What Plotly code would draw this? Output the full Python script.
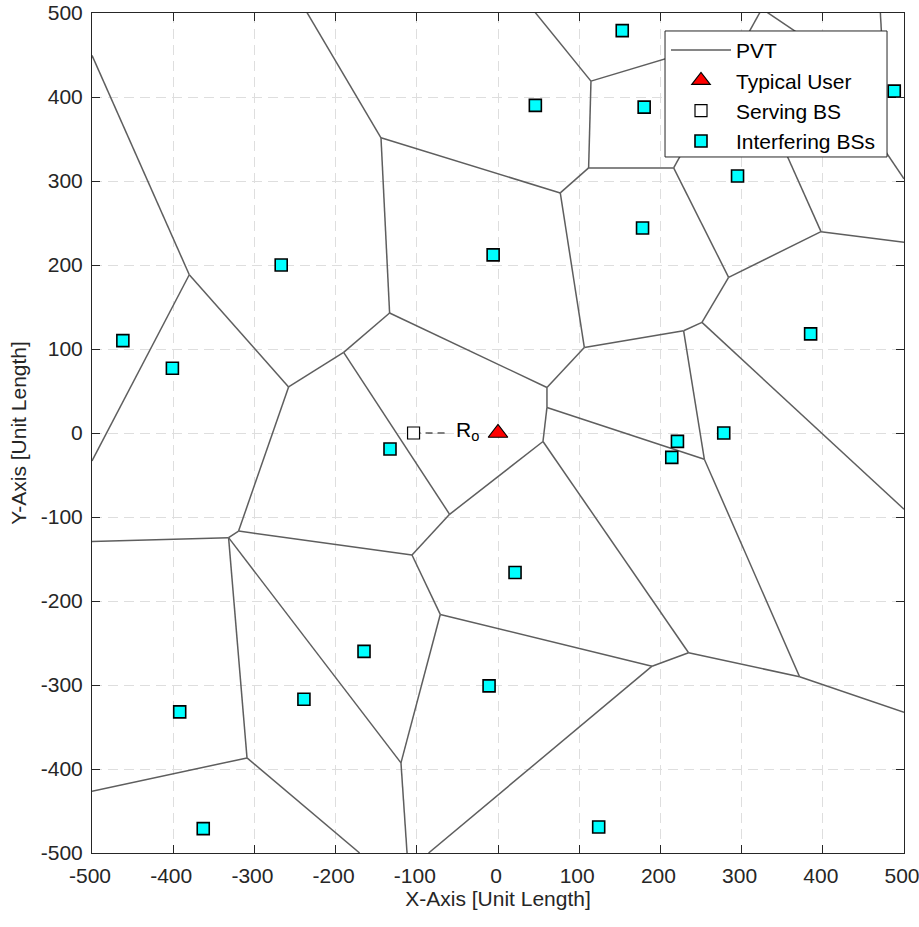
import plotly.graph_objects as go

# ---- Voronoi (PVT) vertices (data units) ----
vertex_x = [-380.2, -257.9, -144.1, -133.5, 76.7, 111.6, 114.5, 216.3, 284.0, 251.2,
            397.8, 228.6, 106.3, 254.1, 60.3, 371.4, 234.7, 55.4, 189.7, -71.1,
            -105.9, -59.6, -190.1, 60.3, -319.5, -331.8, -309.1, -119.5, 307.9, 400.0,
            473.5, 455.0, 332.9, -500.0, -500.0, -235.2, 45.9, -500.0, -500.0, -170.4,
            -112.0, -85.5, 500.0, 500.0, 500.0, 325.0, 470.6, 500.0]
vertex_y = [188.4, 54.9, 351.4, 142.8, 285.8, 315.6, 418.9, 315.6, 185.3, 131.7,
            239.7, 121.7, 101.9, -31.2, 30.4, -290.2, -261.6, -10.1, -277.6, -216.0,
            -145.3, -96.8, 95.9, 54.2, -116.7, -124.6, -386.8, -392.7, 475.1, 456.1,
            455.0, 367.0, 380.0, 449.5, -33.3, 500.5, 500.5, -129.3, -426.6, -500.0,
            -500.0, -500.0, -90.8, -332.4, 227.0, 505.0, 505.0, 302.7]
edge_from = [33, 0, 0, 35, 2, 2, 4, 5, 6, 6, 5, 7, 28, 7, 8, 8, 10, 10, 32, 29, 29, 30, 30, 31, 31,
             9, 9, 11, 11, 13, 13, 15, 15, 16, 16, 18, 18, 19, 20, 21, 21, 22, 22, 3, 23, 23, 14,
             12, 1, 24, 24, 25, 25, 25, 27, 27, 26, 26]
edge_to = [0, 34, 1, 2, 3, 4, 5, 6, 36, 28, 7, 28, 45, 8, 9, 10, 44, 32, 29, 45, 30, 46, 31, 47, 32,
           42, 11, 12, 13, 14, 15, 43, 16, 17, 18, 19, 41, 20, 21, 17, 22, 1, 3, 23, 12, 14, 17,
           4, 24, 20, 25, 37, 26, 27, 19, 40, 38, 39]

# ---- Base stations and user ----
bs_x = [153, 46, 180, 488, 295, 178, -6, -267, -462, -401, 385, -133, 221, 214, 278,
        21, -11, -165, -239, -392, -363, 124]
bs_y = [479, 390, 388, 407, 306, 244, 212, 200, 110, 77, 118, -19, -10, -29, 0,
        -166, -301, -260, -317, -332, -471, -469]
serving_x = [-104]
serving_y = [0]
user_x = [0]
user_y = [0]
ro_x = [-104, -60]
ro_y = [0, 0]

ticks = [-500, -400, -300, -200, -100, 0, 100, 200, 300, 400, 500]

ex, ey = [], []
for a, b in zip(edge_from, edge_to):
    ex += [vertex_x[a], vertex_x[b], None]
    ey += [vertex_y[a], vertex_y[b], None]

FONT = "Liberation Sans, Arial, Helvetica, sans-serif"
AX = "#262626"
FS = 21

fig = go.Figure()
fig.add_trace(go.Scatter(x=ex, y=ey, mode="lines", name="PVT",
                         line=dict(color="#5e5e5e", width=1.5)))
fig.add_trace(go.Scatter(x=ro_x, y=ro_y, mode="lines", showlegend=False,
                         line=dict(color="black", width=1, dash="7px,5px")))
fig.add_trace(go.Scatter(x=user_x, y=user_y, mode="markers", name="Typical User",
                         marker=dict(symbol="triangle-up", size=17, color="red",
                                     line=dict(color="black", width=1.2))))
fig.add_trace(go.Scatter(x=serving_x, y=serving_y, mode="markers", name="Serving BS",
                         marker=dict(symbol="square", size=12, color="white",
                                     line=dict(color="black", width=1.2))))
fig.add_trace(go.Scatter(x=bs_x, y=bs_y, mode="markers", name="Interfering BSs",
                         marker=dict(symbol="square", size=12, color="#00ffff",
                                     line=dict(color="black", width=1.6))))

fig.add_annotation(x=-54, y=2, xref="x", yref="y", text="R<sub>o</sub>", showarrow=False,
                   xanchor="left", yanchor="middle", font=dict(family=FONT, size=FS, color="black"))

# legend frame (white box with border, drawn over the plot like the original legend)
fig.add_shape(type="rect", xref="paper", yref="paper", x0=0.7057, x1=0.9791, y0=0.8286, y1=0.9786,
              fillcolor="white", line=dict(color=AX, width=1), layer="above")

axis_common = dict(range=[-500, 500], tickvals=ticks, ticktext=[str(t) for t in ticks],
                   showgrid=True, gridcolor="#dedede", griddash="10px,6px", gridwidth=1,
                   zeroline=False, showline=True, linecolor=AX, linewidth=1, mirror="ticks",
                   ticks="inside", ticklen=8, tickcolor=AX, tickwidth=1,
                   ticklabeloverflow="allow",
                   tickfont=dict(family=FONT, size=FS, color=AX))
fig.update_xaxes(**axis_common, ticklabelstandoff=4, ticklabelshift=-2,
                 title=dict(text="X-Axis [Unit Length]", standoff=2,
                            font=dict(family=FONT, size=FS, color=AX)))
fig.update_yaxes(**axis_common, ticklabelstandoff=4,
                 title=dict(text="Y-Axis [Unit Length]", standoff=8,
                            font=dict(family=FONT, size=FS, color=AX)))

fig.update_layout(width=919, height=927, paper_bgcolor="white", plot_bgcolor="white",
                  margin=dict(l=92, r=15, t=13, b=74, autoexpand=False),
                  showlegend=True,
                  legend=dict(x=0.7069, y=0.9798, xanchor="left", yanchor="top",
                              bgcolor="rgba(0,0,0,0)", borderwidth=0,
                              font=dict(family=FONT, size=FS, color="black"),
                              tracegroupgap=0, itemwidth=60))
fig.write_html("out.html", config={"displayModeBar": False},
               post_script="document.body.style.margin='0px';")
